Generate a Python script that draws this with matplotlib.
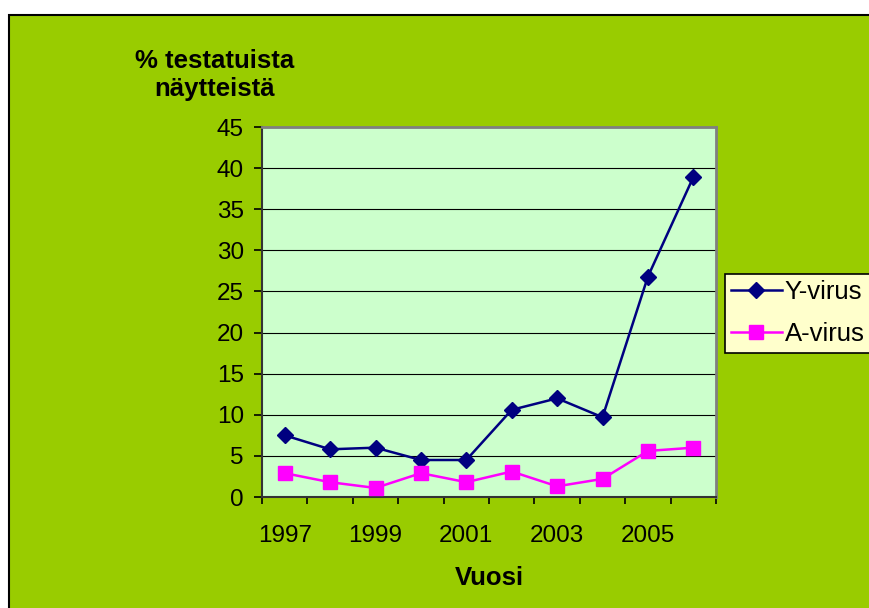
import matplotlib.pyplot as plt
from matplotlib.patches import Rectangle
from matplotlib.ticker import FixedLocator, NullFormatter

plt.rcParams["font.family"] = ["Liberation Sans", "DejaVu Sans"]

years = [1997, 1998, 1999, 2000, 2001, 2002, 2003, 2004, 2005, 2006]
y_virus = [7.5, 5.8, 6.0, 4.5, 4.5, 10.6, 12.0, 9.7, 26.8, 38.9]
a_virus = [2.9, 1.8, 1.1, 2.9, 1.8, 3.1, 1.3, 2.2, 5.6, 6.0]
year_labels = ["1997", "1999", "2001", "2003", "2005"]

GREEN = "#99CC00"
PLOT_BG = "#CCFFCC"
LEGEND_BG = "#FFFFCC"

W, H = 869, 608
fig = plt.figure(figsize=(W / 100, H / 100), dpi=100)
fig.patch.set_facecolor("white")

# green chart area with black frame (continues past the right/bottom edge)
fig.patches.append(Rectangle((9 / W, -0.05), 1.05, 1 - 15 / H + 0.05,
                             transform=fig.transFigure, facecolor=GREEN,
                             edgecolor="black", linewidth=1.5, zorder=-5))

ax = fig.add_axes([262 / W, 1 - 497 / H, (716 - 262) / W, (497 - 127) / H])
ax.set_facecolor(PLOT_BG)

x = list(range(len(years)))
ax.plot(x, y_virus, color="#000080", linewidth=1.8, marker="D", markersize=8.5,
        label="Y-virus", zorder=3)
ax.plot(x, a_virus, color="#FF00FF", linewidth=1.8, marker="s", markersize=9.5,
        label="A-virus", zorder=3)

ax.set_xlim(-0.5, len(years) - 0.5)
ax.set_ylim(0, 45)
ax.set_yticks(range(0, 46, 5))
ax.yaxis.grid(True, color="black", linewidth=0.8)
ax.set_axisbelow(True)

ax.set_xticks([0, 2, 4, 6, 8])
ax.set_xticklabels(year_labels)
ax.tick_params(axis="x", which="major", length=0, pad=20, labelsize=17.5)
ax.xaxis.set_minor_locator(FixedLocator([i - 0.5 for i in range(len(years) + 1)]))
ax.xaxis.set_minor_formatter(NullFormatter())
ax.tick_params(axis="x", which="minor", length=5, width=1.2, direction="out")
ax.tick_params(axis="y", length=6, width=1.2, labelsize=17.5, pad=7)

for side in ("top", "right"):
    ax.spines[side].set_color("#808080")
    ax.spines[side].set_linewidth(2)
for side in ("left", "bottom"):
    ax.spines[side].set_color("#333333")
    ax.spines[side].set_linewidth(1.5)

fig.text(489 / W, 1 - 578 / H, "Vuosi", ha="center", va="center",
         fontsize=18.5, fontweight="bold")
fig.text(215 / W, 1 - 75 / H, "% testatuista\nnäytteistä", ha="center",
         va="center", fontsize=18.5, fontweight="bold", linespacing=1.25)

leg = ax.legend(loc="upper left", bbox_to_anchor=(725 / W, 1 - 274 / H),
                bbox_transform=fig.transFigure, frameon=True, fancybox=False,
                fontsize=18.5, handlelength=1.95, handletextpad=0.12,
                borderpad=0.25, labelspacing=0.7, borderaxespad=0)
leg.get_frame().set_facecolor(LEGEND_BG)
leg.get_frame().set_edgecolor("black")
leg.get_frame().set_linewidth(1.2)
leg.get_frame().set_alpha(1)

fig.savefig("out.png", dpi=100)
